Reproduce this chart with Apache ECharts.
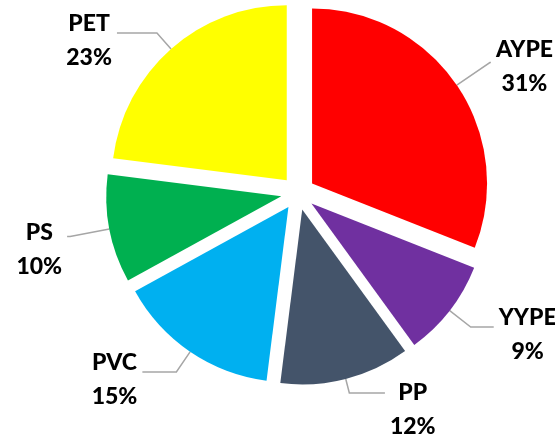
<!DOCTYPE html>
<html><head><meta charset="utf-8">
<script src="https://cdn.jsdelivr.net/npm/echarts@6/dist/echarts.min.js"></script>
<style>html,body{margin:0;padding:0;background:#fff}#c{width:555px;height:441px}</style>
</head><body><div id="c"></div>
<script>
const categories = ['AYPE', 'YYPE', 'PP', 'PVC', 'PS', 'PET'];
const values = [31, 9, 12, 15, 10, 23];

const sliceColors = {AYPE:'#FF0000', YYPE:'#7030A0', PP:'#44546A', PVC:'#00B0F0', PS:'#00B050', PET:'#FFFF00'};
const leader = {
  AYPE: {len: 40, len2: 1, pad: 8},
  YYPE: {len: 26.6, len2: 23, pad: 16},
  PP:   {len: 14.4, len2: 35.6, pad: 34},
  PVC:  {len: 24.4, len2: 34, pad: 16},
  PS:   {len: 40, len2: 3, pad: 27},
  PET:  {len: 21.3, len2: 40, pad: 16}
};

const chart = echarts.init(document.getElementById('c'), null, {renderer: 'canvas'});
const data = categories.map((name, i) => ({
  name: name,
  value: values[i],
  selected: true,
  itemStyle: {color: sliceColors[name]},
  label: {padding: [leader[name].pad, 0, 0, 0]},
  labelLine: {length: leader[name].len, length2: leader[name].len2}
}));

chart.setOption({
  animation: false,
  series: [{
    type: 'pie',
    center: [298, 193],
    radius: [0, 175],
    startAngle: 90,
    clockwise: true,
    selectedMode: 'multiple',
    selectedOffset: 17,
    avoidLabelOverlap: false,
    emphasis: {disabled: true},
    itemStyle: {borderWidth: 0},
    label: {
      show: true,
      position: 'outside',
      distanceToLabelLine: 5,
      formatter: p => '{n|' + p.name + '}\n{n|' + Math.round(p.percent) + '%}',
      rich: {
        n: {fontFamily: 'Lato', fontWeight: 900, fontSize: 23, color: '#000', lineHeight: 34, align: 'center'}
      }
    },
    labelLine: {
      show: true,
      lineStyle: {color: '#A6A6A6', width: 1.5}
    },
    data: data
  }]
});
</script>
</body></html>
